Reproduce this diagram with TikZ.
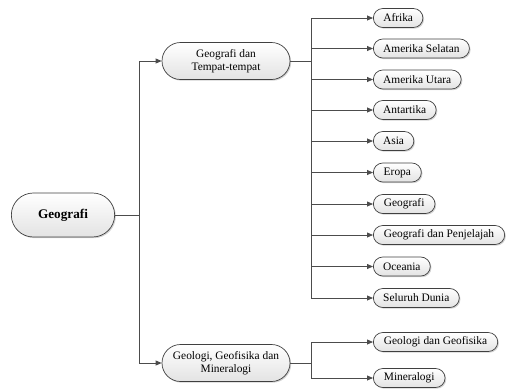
\documentclass[tikz,border=0pt]{standalone}
\usepackage{fontspec}
\setmainfont{Liberation Serif}
\usetikzlibrary{shapes.misc,shadows,arrows.meta}
\tikzset{
  pill/.style={rounded rectangle, draw=black!75, line width=0.7pt,
    top color=white, bottom color=gray!22,
    drop shadow={shadow xshift=1.2pt, shadow yshift=-1.2pt, opacity=0.35, fill=gray},
    font=\fontsize{11.4}{13}\selectfont},
  leaf/.style={pill, anchor=west, minimum height=19pt, inner xsep=9pt, inner ysep=1pt},
  mid/.style={pill, minimum width=130pt, minimum height=37pt, align=center, inner sep=1pt},
  conn/.style={draw=black!70, line width=0.8pt},
  arr/.style={conn, -{Triangle[length=6pt,width=5pt]}}
}
\begin{document}
\begin{tikzpicture}[x=1pt,y=-1pt]
\useasboundingbox (0,0) rectangle (509,389);
\node[pill, minimum width=110pt, minimum height=44pt, font=\fontsize{13.2}{15}\selectfont\bfseries] (root) at (63,215) {Geografi};
\node[mid] (m1) at (226,61) {Geografi dan\\Tempat-tempat};
\node[mid] (m2) at (226,363) {Geologi, Geofisika dan\\Mineralogi};
\coordinate (j1) at (139,215);
\coordinate (j2) at (311,61);
\coordinate (j3) at (311,363);
\node[leaf] (l1) at (373,18) {Afrika};
\node[leaf] (l2) at (373,48.5) {Amerika Selatan};
\node[leaf] (l3) at (373,79.5) {Amerika Utara};
\node[leaf] (l4) at (373,110) {Antartika};
\node[leaf] (l5) at (373,141) {Asia};
\node[leaf] (l6) at (373,172.5) {Eropa};
\node[leaf] (l7) at (373,204) {Geografi};
\node[leaf] (l8) at (373,235) {Geografi dan Penjelajah};
\node[leaf] (l9) at (373,266.5) {Oceania};
\node[leaf] (l10) at (373,298) {Seluruh Dunia};
\node[leaf] (g1) at (373,342) {Geologi dan Geofisika};
\node[leaf] (g2) at (373,378) {Mineralogi};
\draw[arr] (root.east) -- (j1) |- (m1.west);
\draw[arr] (root.east) -- (j1) |- (m2.west);
\foreach \n in {l1,l2,l3,l4,l5,l6,l7,l8,l9,l10}{
  \draw[arr] (m1.east) -- (j2) |- (\n.west);
}
\foreach \n in {g1,g2}{
  \draw[arr] (m2.east) -- (j3) |- (\n.west);
}
\end{tikzpicture}
\end{document}
